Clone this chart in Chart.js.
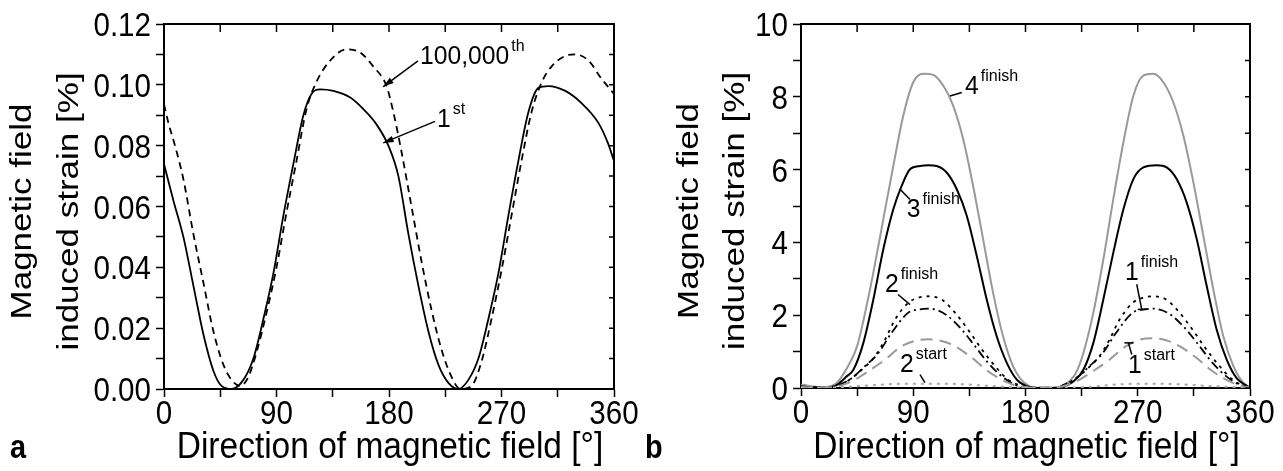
<!DOCTYPE html>
<html>
<head>
<meta charset="utf-8">
<script src="https://cdn.jsdelivr.net/npm/chart.js@4.4.1/dist/chart.umd.min.js"></script>
<style>
body { margin: 0; background: #fff; width: 1283px; height: 471px; overflow: hidden; position: relative; }
#ca { position: absolute; left: 0; top: 0; }
#cb { position: absolute; left: 640px; top: 0; }
</style>
</head>
<body>
<canvas id="ca" width="640" height="471"></canvas>
<canvas id="cb" width="643" height="471"></canvas>
<script>
// axis text
const xTitle = 'Direction of magnetic field [\u00B0]';
const yTitle = ['Magnetic field', 'induced strain [%]'];
const xTickLabels = [0, 90, 180, 270, 360];
const aTickLabels = [0, 0.02, 0.04, 0.06, 0.08, 0.10, 0.12];
const bTickLabels = [0, 2, 4, 6, 8, 10];

// panel a: strain [%] vs angle [deg]
const a1stX = [0, 7.5, 15.5, 23.5, 31.5, 39.5, 46, 54, 63.5, 71.5, 79.5, 87.5, 95.5, 103.5, 111.5, 118, 125, 135.5, 149, 159.5, 170, 179.5, 187.5, 195.5, 203.5, 211.5, 219.5, 227.5, 235.5, 243.5, 251.5, 259.5, 267.5, 275.5, 283.5, 291.5, 299.5, 307.5, 321, 334, 347.5, 355, 360];
const a1stY = [0.074, 0.062, 0.050, 0.034, 0.018, 0.006, 0.001, 0.000, 0.003, 0.010, 0.023, 0.038, 0.057, 0.074, 0.090, 0.097, 0.0985, 0.098, 0.0958, 0.092, 0.087, 0.080, 0.070, 0.051, 0.034, 0.019, 0.008, 0.002, 0.000, 0.003, 0.010, 0.023, 0.038, 0.057, 0.075, 0.091, 0.099, 0.0996, 0.098, 0.094, 0.0875, 0.081, 0.075];
const a100kX = [0, 3.5, 8.8, 15.5, 23.5, 31.5, 39.5, 47.5, 54, 61, 67.5, 74, 82, 90, 98, 106, 114, 122, 133, 146, 157, 167.5, 178, 183.5, 190, 198, 206, 214, 222, 230, 237, 246, 254, 262, 270, 278, 286, 294, 302, 310, 321, 329, 339.5, 350, 355, 360];
const a100kY = [0.0936, 0.0875, 0.080, 0.069, 0.051, 0.035, 0.019, 0.008, 0.003, 0.001, 0.004, 0.012, 0.025, 0.040, 0.058, 0.075, 0.092, 0.101, 0.108, 0.1117, 0.1106, 0.106, 0.0996, 0.091, 0.078, 0.060, 0.042, 0.026, 0.013, 0.004, 0.000, 0.001, 0.009, 0.023, 0.039, 0.057, 0.075, 0.091, 0.1007, 0.106, 0.1095, 0.110, 0.108, 0.102, 0.0995, 0.097];

// panel b
const b4finX = [0, 8, 16, 24, 28, 32, 39, 45, 50, 58, 66, 74, 82, 90, 98, 106, 114, 122, 130, 138, 146, 154, 162, 170, 176, 183, 190, 200, 208, 212, 215.7, 221, 226.4, 234.4, 242.4, 250.4, 258.5, 266.5, 274.5, 282.5, 290.5, 298.5, 306.6, 314.6, 322.6, 330.6, 338.6, 346.7, 354.7, 360];
const b4finY = [0.10, 0.05, 0.02, 0.05, 0.12, 0.28, 0.68, 1.15, 1.85, 3.17, 4.64, 6.10, 7.48, 8.40, 8.63, 8.60, 8.31, 7.76, 6.84, 5.55, 4.09, 2.62, 1.42, 0.60, 0.25, 0.05, 0.0, 0.0, 0.03, 0.10, 0.20, 0.45, 0.96, 2.07, 3.53, 5.19, 6.75, 8.03, 8.58, 8.63, 8.40, 7.85, 6.93, 5.65, 4.18, 2.71, 1.42, 0.60, 0.14, 0.02];
const b3finX = [0, 10, 20, 27, 31, 36, 42, 50, 58, 66, 74, 80.7, 87.4, 95.4, 102, 108.8, 116.8, 124.9, 132.9, 140.9, 148.9, 156.9, 165, 173, 181, 190, 205, 212, 218.4, 226.4, 234.4, 242.4, 250.4, 258.5, 266.5, 274.5, 285.2, 293.2, 301.2, 309.2, 317.3, 325.3, 333.3, 341.3, 349.3, 357.3, 360];
const b3finY = [0.05, 0.02, 0.02, 0.05, 0.14, 0.30, 0.50, 1.24, 2.43, 3.81, 4.91, 5.55, 6.01, 6.10, 6.12, 6.10, 5.92, 5.46, 4.73, 3.63, 2.43, 1.42, 0.69, 0.23, 0.05, 0.0, 0.0, 0.06, 0.18, 0.50, 1.24, 2.43, 3.72, 4.91, 5.74, 6.06, 6.12, 6.06, 5.74, 5.10, 4.09, 2.80, 1.60, 0.78, 0.27, 0.06, 0.02];
const b2finX = [0, 20, 30, 40.6, 48.7, 59.3, 67.4, 75.4, 86, 94, 102, 112.8, 123.5, 134, 145, 155.6, 166, 177, 185, 205, 210, 220.6, 228.7, 239.3, 247.4, 255.4, 266, 274, 282, 292.8, 303.5, 314, 325, 335.6, 346, 355, 360];
const b2finY = [0.03, 0.01, 0.06, 0.27, 0.50, 0.87, 1.33, 1.88, 2.34, 2.48, 2.52, 2.43, 2.07, 1.60, 1.06, 0.60, 0.23, 0.06, 0.01, 0.01, 0.06, 0.27, 0.50, 0.87, 1.33, 1.88, 2.34, 2.48, 2.52, 2.43, 2.07, 1.60, 1.06, 0.60, 0.23, 0.06, 0.03];
const b1finX = [0, 20, 30, 40.6, 51.3, 62, 72.7, 86, 95, 102, 110, 118, 129, 139.5, 150, 161, 171.6, 180, 205, 210, 220.6, 231.3, 242, 252.7, 266, 275, 282, 290, 298, 309, 319.5, 330, 341, 351.6, 360];
const b1finY = [0.03, 0.01, 0.08, 0.27, 0.60, 0.96, 1.52, 2.07, 2.16, 2.18, 2.13, 1.97, 1.60, 1.15, 0.69, 0.32, 0.09, 0.02, 0.01, 0.08, 0.27, 0.60, 0.96, 1.52, 2.07, 2.16, 2.18, 2.13, 1.97, 1.60, 1.15, 0.69, 0.32, 0.09, 0.02];
const b1startX = [0, 25, 33, 40.6, 54, 67.4, 80.7, 92, 102, 112, 123.5, 137, 150, 163.6, 174, 185, 205, 213, 220.6, 234, 247.4, 260.7, 272, 281, 292, 303.5, 317, 330, 343.6, 354, 360];
const b1startY = [0.02, 0.02, 0.08, 0.18, 0.46, 0.78, 1.15, 1.30, 1.34, 1.30, 1.15, 0.83, 0.46, 0.18, 0.05, 0.01, 0.02, 0.08, 0.18, 0.46, 0.78, 1.15, 1.33, 1.37, 1.32, 1.15, 0.83, 0.46, 0.18, 0.05, 0.02];
const b2startX = [0, 30, 50, 75, 100, 125, 150, 175, 200, 230, 255, 280, 305, 330, 360];
const b2startY = [0.01, 0.02, 0.06, 0.11, 0.12, 0.11, 0.06, 0.02, 0.01, 0.03, 0.10, 0.12, 0.10, 0.05, 0.01];

const sans = "'Liberation Sans', Arial, sans-serif";

function pts(xs, ys) {
  return xs.map((x, i) => ({x: x, y: ys[i]}));
}

// text squeezed sideways, like the narrow lettering of the original figure
function txt(ctx, s, x, y, font, kx, ky, align, base, rot) {
  ctx.save();
  ctx.translate(x, y);
  if (rot) ctx.rotate(rot);
  ctx.scale(kx, ky);
  ctx.font = font;
  ctx.textAlign = align;
  ctx.textBaseline = base;
  ctx.fillText(s, 0, 0);
  ctx.restore();
}

// frame on top/right with inward ticks, tick labels, titles and curve labels
const framePlugin = {
  id: 'frame',
  afterDraw(chart, args, opts) {
    const ctx = chart.ctx;
    const a = chart.chartArea;
    const sx = chart.scales.x, sy = chart.scales.y;
    ctx.save();
    ctx.strokeStyle = '#000';
    ctx.fillStyle = '#000';
    ctx.lineWidth = 2;
    ctx.beginPath();
    ctx.moveTo(a.left, a.top);
    ctx.lineTo(a.right, a.top);
    ctx.lineTo(a.right, a.bottom);
    ctx.stroke();
    ctx.lineWidth = 1.5;
    ctx.beginPath();
    sx.ticks.forEach(t => {
      const p = sx.getPixelForValue(t.value);
      ctx.moveTo(p, a.top); ctx.lineTo(p, a.top + 8);
    });
    sy.ticks.forEach(t => {
      const p = sy.getPixelForValue(t.value);
      ctx.moveTo(a.right, p); ctx.lineTo(a.right - 5, p);
    });
    ctx.stroke();

    // tick labels
    const tf = '34px ' + sans;
    xTickLabels.forEach(v => {
      txt(ctx, String(v), sx.getPixelForValue(v), a.bottom + 35, tf, 0.87, 1, 'center', 'alphabetic');
    });
    opts.yLabels.forEach(v => {
      txt(ctx, opts.yFmt(v), a.left - 13, sy.getPixelForValue(v) + 12, tf, 0.87, 1, 'right', 'alphabetic');
    });

    // axis titles
    const cx = (a.left + a.right) / 2;
    txt(ctx, xTitle, cx + 1, 458, '36px ' + sans, 0.93, 1, 'center', 'alphabetic');
    const cy = (a.top + a.bottom) / 2 + 5;
    yTitle.forEach((s, i) => {
      txt(ctx, s, opts.yTitleX[i], cy, '35px ' + sans, 1, 0.86, 'center', 'middle', -Math.PI / 2);
    });

    // leaders and arrows
    ctx.lineWidth = 1.5;
    (opts.lines || []).forEach(l => {
      const x1 = sx.getPixelForValue(l.from[0]), y1 = sy.getPixelForValue(l.from[1]);
      const x2 = sx.getPixelForValue(l.to[0]), y2 = sy.getPixelForValue(l.to[1]);
      ctx.beginPath();
      ctx.moveTo(x1, y1); ctx.lineTo(x2, y2);
      ctx.stroke();
      if (l.arrow) {
        const ang = Math.atan2(y2 - y1, x2 - x1);
        ctx.beginPath();
        ctx.moveTo(x2, y2);
        ctx.lineTo(x2 - 11 * Math.cos(ang - 0.3), y2 - 11 * Math.sin(ang - 0.3));
        ctx.lineTo(x2 - 11 * Math.cos(ang + 0.3), y2 - 11 * Math.sin(ang + 0.3));
        ctx.closePath();
        ctx.fill();
      }
      if (l.bar) {
        ctx.beginPath();
        ctx.moveTo(x2 - 4, y2); ctx.lineTo(x2 + 5, y2);
        ctx.stroke();
      }
    });

    // labels with superscripts
    (opts.notes || []).forEach(n => {
      const x = sx.getPixelForValue(n.x), y = sy.getPixelForValue(n.y);
      txt(ctx, n.t, x, y, '26px ' + sans, 0.95, 1, 'left', 'alphabetic');
      ctx.font = '26px ' + sans;
      const w = ctx.measureText(n.t).width * 0.95;
      txt(ctx, n.s, x + w + 2, y - 13, '16px ' + sans, 1, 1, 'left', 'alphabetic');
    });

    txt(ctx, opts.letter, opts.letterX, 458, 'bold 34px ' + sans, 0.85, 1, 'left', 'alphabetic');
    ctx.restore();
  }
};

function makeChart(id, datasets, yMax, yStep, pad, yWidth, xHeight, frameOpts) {
  return new Chart(document.getElementById(id), {
    type: 'line',
    data: {datasets: datasets},
    options: {
      responsive: false,
      animation: false,
      events: [],
      devicePixelRatio: 1,
      layout: {padding: pad},
      elements: {point: {radius: 0}, line: {cubicInterpolationMode: 'monotone'}},
      plugins: {legend: {display: false}, tooltip: {enabled: false}, frame: frameOpts},
      scales: {
        x: {
          type: 'linear', min: 0, max: 360,
          afterFit: s => { s.height = xHeight; },
          border: {display: true, color: '#000', width: 2},
          grid: {drawOnChartArea: false, drawTicks: true, tickLength: 8, tickWidth: 1.5, tickColor: '#000'},
          ticks: {stepSize: 45, display: false, autoSkip: false}
        },
        y: {
          min: 0, max: yMax,
          afterFit: s => { s.width = yWidth; },
          border: {display: true, color: '#000', width: 2},
          grid: {drawOnChartArea: false, drawTicks: true, tickLength: 8, tickWidth: 1.5, tickColor: '#000'},
          ticks: {stepSize: yStep, display: false, autoSkip: false}
        }
      }
    },
    plugins: [framePlugin]
  });
}

makeChart('ca', [
  {data: pts(a1stX, a1stY), borderColor: '#000', borderWidth: 1.8},
  {data: pts(a100kX, a100kY), borderColor: '#000', borderWidth: 1.8, borderDash: [7, 5]}
], 0.12, 0.01, {left: 0, top: 24, right: 26, bottom: 4}, 164, 78, {
  letter: 'a', letterX: 10,
  yLabels: aTickLabels, yFmt: v => v.toFixed(2), yTitleX: [23, 70],
  lines: [
    {from: [203.2, 0.1079], to: [175.4, 0.0994], arrow: true},
    {from: [216.8, 0.0880], to: [175.4, 0.0809], arrow: true}
  ],
  notes: [
    {t: '100,000', s: 'th', x: 204.8, y: 0.1068},
    {t: '1', s: 'st', x: 218.4, y: 0.0860}
  ]
});

makeChart('cb', [
  {data: pts(b2startX, b2startY), borderColor: '#aaa', borderWidth: 2, borderDash: [3, 5]},
  {data: pts(b1startX, b1startY), borderColor: '#999', borderWidth: 2, borderDash: [12, 7]},
  {data: pts(b1finX, b1finY), borderColor: '#000', borderWidth: 1.8, borderDash: [9, 4, 2, 4]},
  {data: pts(b2finX, b2finY), borderColor: '#000', borderWidth: 1.8, borderDash: [3, 5]},
  {data: pts(b3finX, b3finY), borderColor: '#000', borderWidth: 2},
  {data: pts(b4finX, b4finY), borderColor: '#999', borderWidth: 2}
], 10, 1, {left: 27, top: 24, right: 33, bottom: 4}, 134, 79, {
  letter: 'b', letterX: 5,
  yLabels: bTickLabels, yFmt: v => String(v), yTitleX: [50, 95.5],
  lines: [
    {from: [119.5, 8.02], to: [128.9, 8.12]},
    {from: [80.0, 5.44], to: [87.4, 5.18]},
    {from: [77.8, 2.57], to: [87.4, 2.29]},
    {from: [95.4, 0.37], to: [99.4, 0.15]},
    {from: [269.2, 2.85], to: [273.2, 2.16], bar: true},
    {from: [265.2, 0.92], to: [262.5, 1.24], bar: true}
  ],
  notes: [
    {t: '4', s: 'finish', x: 131.5, y: 8.08},
    {t: '3', s: 'finish', x: 84.8, y: 4.69},
    {t: '2', s: 'finish', x: 67.4, y: 2.65},
    {t: '2', s: 'start', x: 79.4, y: 0.45},
    {t: '1', s: 'finish', x: 259.8, y: 2.98},
    {t: '1', s: 'start', x: 262.2, y: 0.42}
  ]
});
</script>
</body>
</html>
